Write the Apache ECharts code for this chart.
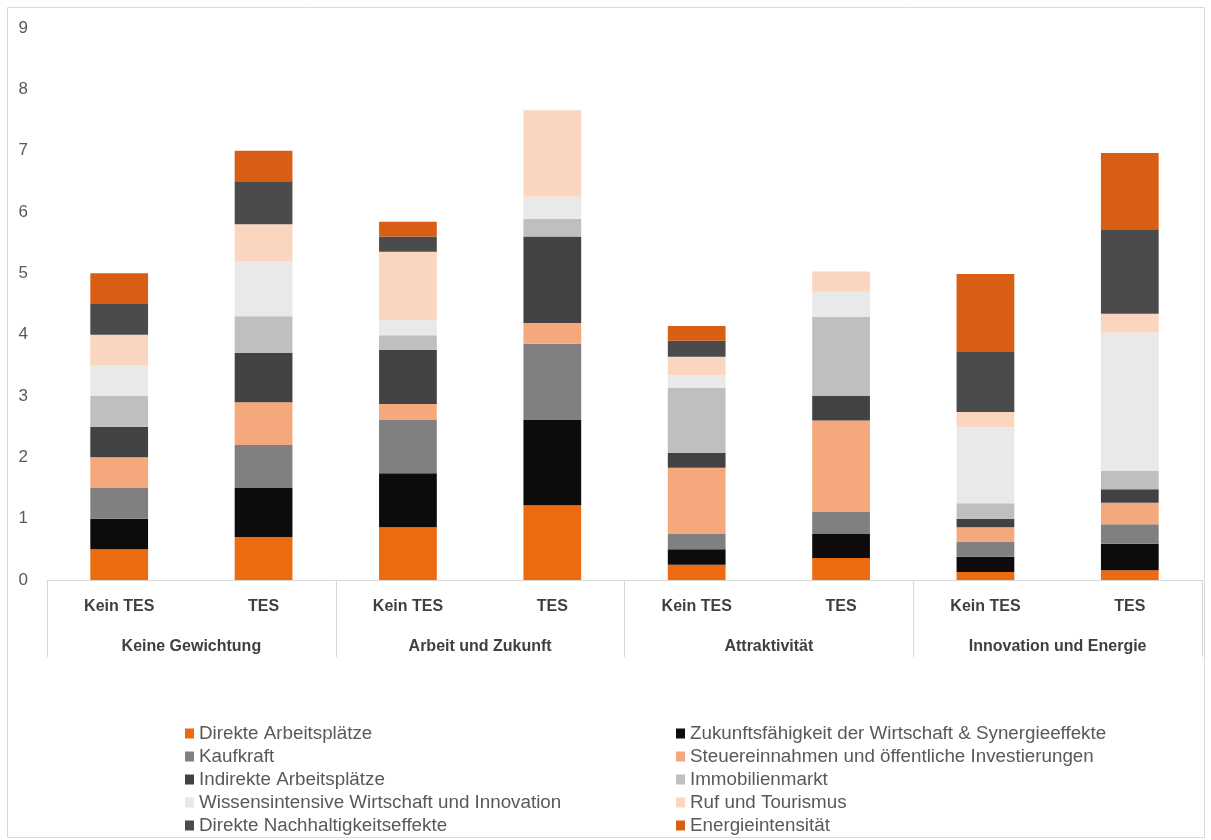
<!DOCTYPE html>
<html>
<head>
<meta charset="utf-8">
<script src="https://cdn.jsdelivr.net/npm/echarts@6/dist/echarts.min.js"></script>
<style>
  html, body { margin: 0; padding: 0; background: #ffffff; }
  #chart { width: 1211px; height: 840px; }
</style>
</head>
<body>
<div id="chart"></div>
<script>
// Scenario groups and the two variants inside each group
const groups = ['Keine Gewichtung', 'Arbeit und Zukunft', 'Attraktivität', 'Innovation und Energie'];
const variants = ['Kein TES', 'TES', 'Kein TES', 'TES', 'Kein TES', 'TES', 'Kein TES', 'TES'];

// Stacked components (bottom to top), one value per bar
const direkteArbeitsplaetze = [0.5, 0.7, 0.86, 1.22, 0.25, 0.36, 0.13, 0.16];
const zukunftsfaehigkeit   = [0.5, 0.8, 0.88, 1.39, 0.25, 0.39, 0.25, 0.43];
const kaufkraft            = [0.5, 0.7, 0.87, 1.24, 0.25, 0.36, 0.24, 0.32];
const steuereinnahmen      = [0.5, 0.7, 0.26, 0.34, 1.08, 1.49, 0.24, 0.35];
const indirekteArbeit      = [0.5, 0.8, 0.88, 1.41, 0.24, 0.40, 0.14, 0.22];
const immobilienmarkt      = [0.5, 0.6, 0.24, 0.29, 1.06, 1.29, 0.25, 0.30];
const wissensintensiv      = [0.5, 0.9, 0.25, 0.36, 0.21, 0.41, 1.24, 2.25];
const rufTourismus         = [0.5, 0.6, 1.11, 1.41, 0.30, 0.33, 0.25, 0.31];
const nachhaltigkeit       = [0.5, 0.7, 0.25, 0,    0.26, 0,    0.99, 1.38];
const energieintensitaet   = [0.5, 0.5, 0.24, 0,    0.24, 0,    1.26, 1.24];

const yTicks = { min: 0, max: 9, interval: 1 };

const seriesDefs = [
  { name: 'Direkte Arbeitsplätze', data: direkteArbeitsplaetze, color: '#EC6A10' },
  { name: 'Zukunftsfähigkeit der Wirtschaft & Synergieeffekte', data: zukunftsfaehigkeit, color: '#0D0B0B' },
  { name: 'Kaufkraft', data: kaufkraft, color: '#808080' },
  { name: 'Steuereinnahmen und öffentliche Investierungen', data: steuereinnahmen, color: '#F5A87C' },
  { name: 'Indirekte Arbeitsplätze', data: indirekteArbeit, color: '#424242' },
  { name: 'Immobilienmarkt', data: immobilienmarkt, color: '#BFBFBF' },
  { name: 'Wissensintensive Wirtschaft und Innovation', data: wissensintensiv, color: '#E9E9E9' },
  { name: 'Ruf und Tourismus', data: rufTourismus, color: '#FBD6BE' },
  { name: 'Direkte Nachhaltigkeitseffekte', data: nachhaltigkeit, color: '#4B4B4B' },
  { name: 'Energieintensität', data: energieintensitaet, color: '#D85E14' }
];

const FONT = '"Liberation Sans", Arial, sans-serif';

const chart = echarts.init(document.getElementById('chart'), null, { renderer: 'canvas' });

const legendText = { color: '#595959', fontSize: 18.8, fontFamily: FONT, lineHeight: 18 };
const leftNames = seriesDefs.filter((_, i) => i % 2 === 0).map(s => s.name);
const rightNames = seriesDefs.filter((_, i) => i % 2 === 1).map(s => s.name);

const legendBase = {
  orient: 'vertical', top: 724, height: 116, padding: 0,
  itemWidth: 9, itemHeight: 10, itemGap: 4,
  icon: 'rect', textStyle: legendText, selectedMode: false
};

chart.setOption({
  backgroundColor: '#ffffff',
  animation: false,
  graphic: [{
    type: 'rect',
    shape: { x: 7.5, y: 7.5, width: 1197, height: 830 },
    style: { fill: null, stroke: '#D9D9D9', lineWidth: 1 },
    silent: true
  }],
  grid: { left: 47, right: 9, top: 28, bottom: 260, containLabel: false },
  legend: [
    Object.assign({}, legendBase, { left: 185, data: leftNames }),
    Object.assign({}, legendBase, { left: 676, data: rightNames })
  ],
  xAxis: [
    {
      type: 'category', data: variants, position: 'bottom',
      axisLine: { show: true, lineStyle: { color: '#D9D9D9', width: 1 } },
      axisTick: { show: false },
      axisLabel: { interval: 0, margin: 19, color: '#404040', fontSize: 16, fontWeight: 'bold', fontFamily: FONT }
    },
    {
      type: 'category', data: groups, position: 'bottom', offset: 0,
      axisLine: { show: false },
      axisTick: { show: true, length: 77, lineStyle: { color: '#D9D9D9', width: 1 } },
      axisLabel: { interval: 0, margin: 59, color: '#404040', fontSize: 16, fontWeight: 'bold', fontFamily: FONT }
    }
  ],
  yAxis: {
    type: 'value', min: yTicks.min, max: yTicks.max, interval: yTicks.interval,
    axisLine: { show: false }, axisTick: { show: false }, splitLine: { show: false },
    axisLabel: { margin: 19, color: '#595959', fontSize: 17, fontFamily: FONT }
  },
  series: seriesDefs.map(s => ({
    name: s.name, type: 'bar', stack: 'total', data: s.data, xAxisIndex: 0,
    barWidth: '40%', itemStyle: { color: s.color }, emphasis: { disabled: true }
  }))
});
</script>
</body>
</html>
